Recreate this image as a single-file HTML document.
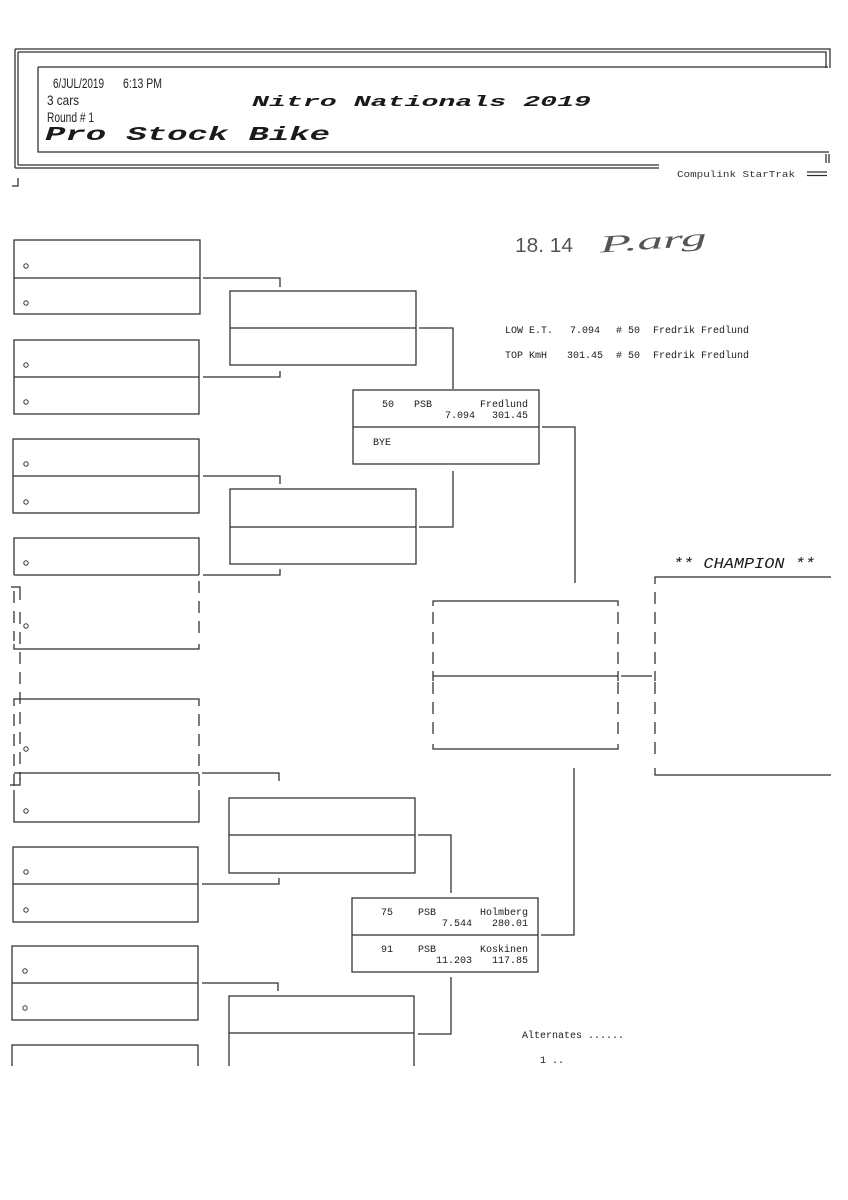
<!DOCTYPE html>
<html>
<head>
<meta charset="utf-8">
<style>
  html, body { margin:0; padding:0; background:#fff; }
  body { width:848px; height:1200px; overflow:hidden; }
  svg { display:block; }
  .ln { stroke:#2e2e2e; stroke-width:1.25; fill:none; }
  .dl { stroke:#2e2e2e; stroke-width:1.25; fill:none; stroke-dasharray:12 8; }
  .m { font-family:"Liberation Mono", monospace; font-size:10px; fill:#1a1a1a; }
  .o { stroke:#333; stroke-width:1; fill:none; }
</style>
</head>
<body>
<svg width="848" height="1200" viewBox="0 0 848 1200" xmlns="http://www.w3.org/2000/svg">
  <rect width="848" height="1200" fill="#fff"/>

  <!-- ===== HEADER FRAME ===== -->
  <path class="ln" stroke-width="1.6" d="M15 49 H830 V68 M18 52 H826 V68 M15 49 V168 M18 52 V165"/>
  <path class="ln" d="M38 67 H828 M38 67 V152 H829 M826 154 V163 M829 154 V163"/>
  <path class="ln" stroke-width="1.6" d="M15 168 H659 M18 165 H659"/>
  <path class="ln" d="M807 172 H827 M807 175.5 H827"/>
  <path class="ln" d="M18 178 V186 H12"/>

  <text x="53" y="88" font-family="Liberation Sans, sans-serif" font-size="14" fill="#222" textLength="51" lengthAdjust="spacingAndGlyphs">6/JUL/2019</text>
  <text x="123" y="88" font-family="Liberation Sans, sans-serif" font-size="14" fill="#222" textLength="39" lengthAdjust="spacingAndGlyphs">6:13 PM</text>
  <text x="47" y="105" font-family="Liberation Sans, sans-serif" font-size="14" fill="#222" textLength="32" lengthAdjust="spacingAndGlyphs">3 cars</text>
  <text x="47" y="122" font-family="Liberation Sans, sans-serif" font-size="14" fill="#222" textLength="47" lengthAdjust="spacingAndGlyphs">Round # 1</text>
  <text x="252" y="106" font-family="Liberation Mono, monospace" font-weight="bold" font-style="italic" font-size="15" fill="#1a1a1a" textLength="339" lengthAdjust="spacingAndGlyphs">Nitro Nationals 2019</text>
  <text x="45" y="140" font-family="Liberation Mono, monospace" font-weight="bold" font-style="italic" font-size="19" fill="#1a1a1a" textLength="285" lengthAdjust="spacingAndGlyphs">Pro Stock Bike</text>
  <text x="677" y="177" font-family="Liberation Mono, monospace" font-size="9" fill="#333" textLength="118" lengthAdjust="spacingAndGlyphs">Compulink StarTrak</text>

  <!-- handwriting -->
  <text x="515" y="252" font-family="Liberation Sans, sans-serif" font-size="20" fill="#555" textLength="58" lengthAdjust="spacingAndGlyphs">18. 14</text>
  <text x="600" y="249" font-family="Liberation Serif, serif" font-style="italic" font-size="24" fill="#555" textLength="107" lengthAdjust="spacingAndGlyphs" transform="rotate(-4 650 245)">P.arg</text>

  <!-- LOW ET / TOP KmH -->
  <text class="m" x="505" y="333">LOW E.T.</text>
  <text class="m" x="570" y="333">7.094</text>
  <text class="m" x="616" y="333"># 50</text>
  <text class="m" x="653" y="333">Fredrik Fredlund</text>
  <text class="m" x="505" y="358">TOP KmH</text>
  <text class="m" x="567" y="358">301.45</text>
  <text class="m" x="616" y="358"># 50</text>
  <text class="m" x="653" y="358">Fredrik Fredlund</text>

  <!-- ===== ROUND 1 (left column) ===== -->
  <path class="ln" d="M14 240 H200 V314 H14 Z M14 278 H200"/>
  <circle class="o" cx="26" cy="266" r="2.2"/><circle class="o" cx="26" cy="303" r="2.2"/>
  <path class="ln" d="M14 340 H199 V414 H14 Z M14 377 H199"/>
  <circle class="o" cx="26" cy="365" r="2.2"/><circle class="o" cx="26" cy="402" r="2.2"/>
  <path class="ln" d="M13 439 H199 V513 H13 Z M13 476 H199"/>
  <circle class="o" cx="26" cy="464" r="2.2"/><circle class="o" cx="26" cy="502" r="2.2"/>
  <path class="ln" d="M14 575 V538 H199 V575 M14 575 H199 M14 644 V649 H199 V644"/>
  <path class="dl" d="M14 591 V641 M199 581 V641"/>
  <circle class="o" cx="26" cy="563" r="2.2"/><circle class="o" cx="26" cy="626" r="2.2"/>
  <path class="ln" d="M11 587 H20 V600"/>
  <path class="dl" d="M20 612 V780"/>
  <path class="ln" d="M20 778 V785 H10"/>
  <path class="ln" d="M14 706 V699 H199 V706 M14 773 H199 M14 790 V822 H199 V790"/>
  <path class="dl" d="M14 714 V786 M199 714 V786"/>
  <circle class="o" cx="26" cy="749" r="2.2"/><circle class="o" cx="26" cy="811" r="2.2"/>
  <path class="ln" d="M13 847 H198 V922 H13 Z M13 884 H198"/>
  <circle class="o" cx="26" cy="872" r="2.2"/><circle class="o" cx="26" cy="910" r="2.2"/>
  <path class="ln" d="M12 946 H198 V1020 H12 Z M12 983 H198"/>
  <circle class="o" cx="25" cy="971" r="2.2"/><circle class="o" cx="25" cy="1008" r="2.2"/>
  <path class="ln" d="M12 1066 V1045 H198 V1066"/>

  <!-- R1 -> R2 connectors -->
  <path class="ln" d="M203 278 H280 V287"/>
  <path class="ln" d="M203 377 H280 V371"/>
  <path class="ln" d="M203 476 H280 V484"/>
  <path class="ln" d="M203 575 H280 V569"/>
  <path class="ln" d="M202 773 H279 V781"/>
  <path class="ln" d="M202 884 H279 V878"/>
  <path class="ln" d="M202 983 H278 V991"/>

  <!-- ===== ROUND 2 ===== -->
  <path class="ln" d="M230 291 H416 V365 H230 Z M230 328 H416"/>
  <path class="ln" d="M230 489 H416 V564 H230 Z M230 527 H416"/>
  <path class="ln" d="M229 798 H415 V873 H229 Z M229 835 H415"/>
  <path class="ln" d="M229 1066 V996 H414 V1066 M229 1033 H414"/>

  <!-- R2 -> R3 connectors -->
  <path class="ln" d="M419 328 H453 V389"/>
  <path class="ln" d="M419 527 H453 V471"/>
  <path class="ln" d="M418 835 H451 V893"/>
  <path class="ln" d="M418 1034 H451 V977"/>

  <!-- ===== ROUND 3 ===== -->
  <path class="ln" d="M353 390 H539 V464 H353 Z M353 427 H539"/>
  <text class="m" x="382" y="407">50</text>
  <text class="m" x="414" y="407">PSB</text>
  <text class="m" x="528" y="407" text-anchor="end">Fredlund</text>
  <text class="m" x="475" y="418" text-anchor="end">7.094</text>
  <text class="m" x="528" y="418" text-anchor="end">301.45</text>
  <text class="m" x="373" y="445">BYE</text>

  <path class="ln" d="M352 898 H538 V972 H352 Z M352 935 H538"/>
  <text class="m" x="381" y="915">75</text>
  <text class="m" x="418" y="915">PSB</text>
  <text class="m" x="528" y="915" text-anchor="end">Holmberg</text>
  <text class="m" x="472" y="926" text-anchor="end">7.544</text>
  <text class="m" x="528" y="926" text-anchor="end">280.01</text>
  <text class="m" x="381" y="952">91</text>
  <text class="m" x="418" y="952">PSB</text>
  <text class="m" x="528" y="952" text-anchor="end">Koskinen</text>
  <text class="m" x="472" y="963" text-anchor="end">11.203</text>
  <text class="m" x="528" y="963" text-anchor="end">117.85</text>

  <!-- R3 -> R4 connectors -->
  <path class="ln" d="M542 427 H575 V583"/>
  <path class="ln" d="M541 935 H574 V768"/>

  <!-- ===== FINAL ===== -->
  <path class="ln" d="M433 606 V601 H618 V606 M433 744 V749 H618 V744 M433 676 H618"/>
  <path class="dl" d="M433 612 V670 M433 682 V740 M618 612 V670 M618 682 V740"/>
  <path class="ln" d="M433 671 V681 M618 671 V681"/>
  <path class="ln" d="M621 676 H652"/>

  <!-- ===== CHAMPION ===== -->
  <text x="673" y="568" font-family="Liberation Mono, monospace" font-style="italic" font-size="15" fill="#1a1a1a" textLength="142" lengthAdjust="spacingAndGlyphs">** CHAMPION **</text>
  <path class="ln" d="M655 584 V577 H831 M655 768 V775 H831"/>
  <path class="dl" d="M655 592 V670 M655 682 V762"/>
  <path class="ln" d="M655 671 V681"/>

  <!-- Alternates -->
  <text class="m" x="522" y="1038">Alternates ......</text>
  <text class="m" x="540" y="1063">1 ..</text>
</svg>
</body>
</html>
